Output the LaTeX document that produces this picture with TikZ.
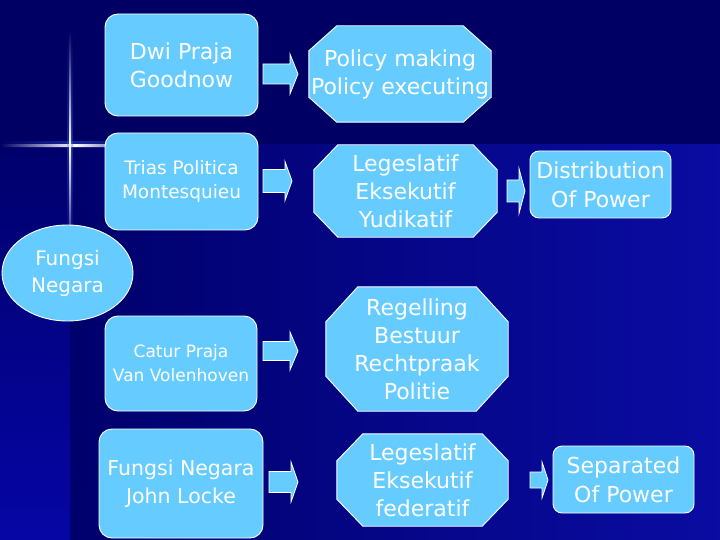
\documentclass[tikz,border=0pt]{standalone}
\usepackage{fontspec}
\setmainfont{DejaVu Sans}
\usetikzlibrary{calc,shapes.geometric}
\definecolor{boxfill}{HTML}{66CCFF}
\definecolor{bgtop}{HTML}{000064}
\definecolor{bgdark}{HTML}{00006C}
\definecolor{bgleft}{HTML}{0606A4}
\definecolor{bgright}{HTML}{0A0CA2}
\definecolor{glow}{HTML}{4070FF}
\pgfdeclarelayer{back}
\pgfdeclarelayer{mid}
\pgfsetlayers{back,mid,main}
\newcommand\blkarrow[6]{\draw[arr] (#1,#4-#5) -- (#2,#4-#5) -- (#2,#4-#6) -- (#3,#4) -- (#2,#4+#6) -- (#2,#4+#5) -- (#1,#4+#5) -- cycle;}
\newcommand\octa[3]{\begin{pgfonlayer}{mid}\draw[shapefill] ($(#1.north west)+(#2,0)$) -- ($(#1.north east)+(-#2,0)$) -- ($(#1.north east)+(0,#3)$) -- ($(#1.south east)+(0,-#3)$) -- ($(#1.south east)+(-#2,0)$) -- ($(#1.south west)+(#2,0)$) -- ($(#1.south west)+(0,-#3)$) -- ($(#1.north west)+(0,#3)$) -- cycle;\end{pgfonlayer}}
\begin{document}
\begin{tikzpicture}[x=1pt,y=-1pt,
  shapefill/.style={fill=boxfill,draw=white,line width=0.9pt},
  arr/.style={fill=boxfill,draw=white,line width=0.8pt,line join=miter},
  rbox/.style={shapefill,rounded corners=13pt,inner sep=0pt,align=center,text=white},
  octbox/.style={inner sep=0pt,align=center,text=white,font=\fontsize{22}{28}\selectfont},
  big/.style={font=\fontsize{22}{29}\selectfont}]
\useasboundingbox (0,0) rectangle (720,540);
\begin{pgfonlayer}{back}
  \fill[bgtop] (0,0) rectangle (720,145);
  \shade[left color=bgdark, middle color=bgright, right color=bgright] (70,145) rectangle (720,540);
  \shade[top color=bgdark, bottom color=bgleft] (0,145) rectangle (70,540);
  % star glow
  \shade[left color=bgtop, right color=bgtop, middle color=glow, opacity=0.35] (0,142) rectangle (150,148);
  \shade[left color=bgtop, right color=bgdark, middle color=white] (0,144.2) rectangle (150,146.2);
  \shade[top color=bgtop, bottom color=bgdark, middle color=glow, opacity=0.35] (67,30) rectangle (73,260);
  \shade[top color=bgtop, bottom color=bgdark, middle color=white] (69.2,30) rectangle (71.2,260);
\end{pgfonlayer}

% left boxes
\node[rbox, minimum width=153pt, minimum height=102pt, font=\fontsize{22}{28}\selectfont] (b1) at (181.5,65) {Dwi Praja\\Goodnow};
\node[rbox, minimum width=153pt, minimum height=97pt, font=\fontsize{18.5}{24}\selectfont] (b2) at (181.5,181.5) {Trias Politica\\Montesquieu};
\node[rbox, minimum width=152pt, minimum height=95pt, font=\fontsize{17}{24}\selectfont] (b3) at (181,363.5) {Catur Praja\\Van Volenhoven};
\node[rbox, minimum width=164pt, minimum height=109pt, font=\fontsize{20.5}{28}\selectfont] (b4) at (181,483.5) {Fungsi Negara\\John Locke};
\node[shapefill, ellipse, inner sep=0pt, minimum width=131pt, minimum height=96pt, align=center, text=white, font=\fontsize{20}{27}\selectfont] (fn) at (67.5,273) {Fungsi\\Negara};

% octagons
\node[octbox, minimum width=182pt, minimum height=96pt] (o1) at (400,74) {Policy making\\Policy executing};
\octa{o1}{28}{25}
\node[octbox, minimum width=183pt, minimum height=92pt] (o2) at (405.5,191) {Legeslatif\\Eksekutif\\Yudikatif};
\octa{o2}{24}{25}
\node[octbox, minimum width=182pt, minimum height=124pt] (o3) at (417,349) {Regelling\\Bestuur\\Rechtpraak\\Politie};
\octa{o3}{32}{35}
\node[octbox, minimum width=171pt, minimum height=92pt] (o4) at (422.5,480) {Legeslatif\\Eksekutif\\federatif};
\octa{o4}{26}{27}

% right boxes
\node[rbox, rounded corners=9pt, big, minimum width=141pt, minimum height=67pt] (d1) at (600.5,184.5) {Distribution\\Of Power};
\node[rbox, rounded corners=9pt, big, minimum width=141pt, minimum height=67pt] (s1) at (623.5,479.5) {Separated\\Of Power};

% block arrows
\blkarrow{263}{290}{298}{74}{10}{20}
\blkarrow{263}{285}{292}{181}{11.5}{19.5}
\blkarrow{507}{519}{525}{191}{11}{22.5}
\blkarrow{263}{290}{298}{351}{9.5}{19}
\blkarrow{269}{291}{298}{482}{10.5}{20}
\blkarrow{530}{542}{548}{480}{8}{18}
\end{tikzpicture}
\end{document}
